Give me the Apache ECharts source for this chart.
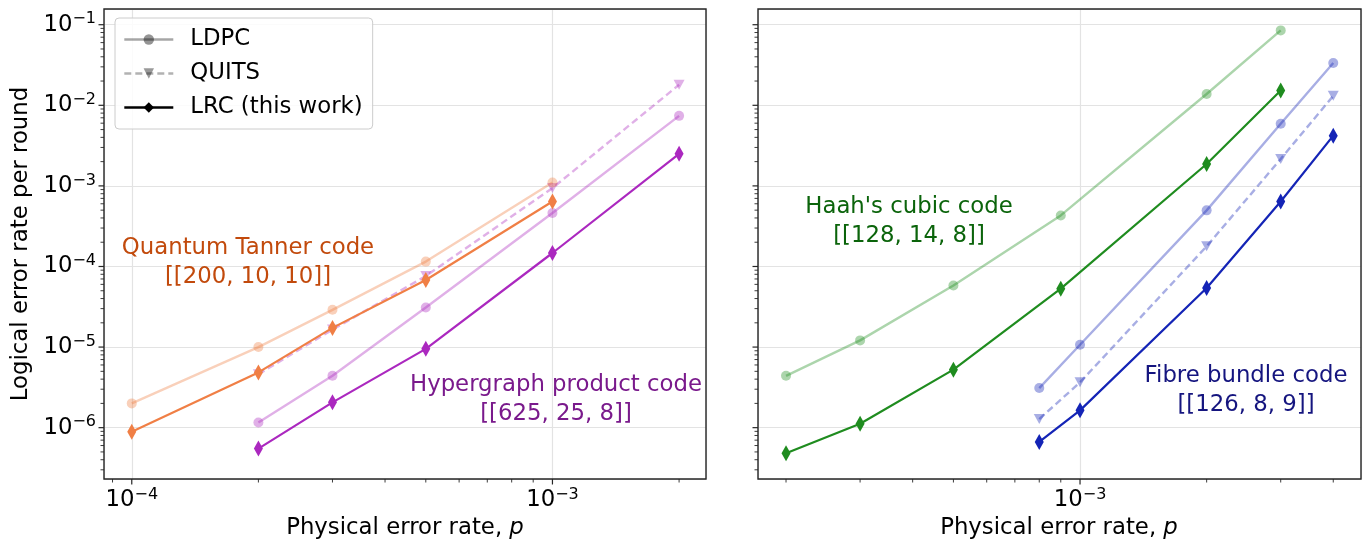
<!DOCTYPE html>
<html>
<head>
<meta charset="utf-8">
<script src="https://cdn.jsdelivr.net/npm/echarts@6/dist/echarts.min.js"></script>
<style>
html,body{margin:0;padding:0;background:#fff;}
#chart{width:1369px;height:544px;}
</style>
</head>
<body>
<div id="chart"></div>
<script>
// ---------- data ----------
const xQT = [1e-4, 2e-4, 3e-4, 5e-4, 1e-3];
const qtLDPC = [2.0e-6, 1.0e-5, 2.9e-5, 1.15e-4, 1.1e-3];
const qtLRC = [8.9e-7, 4.85e-6, 1.73e-5, 6.8e-5, 6.4e-4];

const xHGP = [2e-4, 3e-4, 5e-4, 1e-3, 2e-3];
const hgpLDPC = [1.16e-6, 4.4e-6, 3.1e-5, 4.6e-4, 7.4e-3];
const hgpQUITS = [4.6e-6, 1.65e-5, 7.6e-5, 9.4e-4, 1.8e-2];
const hgpLRC = [5.5e-7, 2.06e-6, 9.5e-6, 1.47e-4, 2.5e-3];

const xHaah = [2e-4, 3e-4, 5e-4, 9e-4, 2e-3, 3e-3];
const haahLDPC = [4.4e-6, 1.21e-5, 5.8e-5, 4.3e-4, 1.38e-2, 8.5e-2];
const haahLRC = [4.8e-7, 1.12e-6, 5.25e-6, 5.3e-5, 1.87e-3, 1.53e-2];

const xFB = [8e-4, 1e-3, 2e-3, 3e-3, 4e-3];
const fbLDPC = [3.1e-6, 1.07e-5, 4.97e-4, 5.9e-3, 3.35e-2];
const fbQUITS = [1.28e-6, 3.65e-6, 1.78e-4, 2.16e-3, 1.31e-2];
const fbLRC = [6.65e-7, 1.64e-6, 5.4e-5, 6.4e-4, 4.2e-3];

const legendNames = ['LDPC', 'QUITS', 'LRC (this work)'];
const xMajorLeft = [1e-4, 1e-3];
const xMajorRight = [1e-3];
const yMajor = [1e-6, 1e-5, 1e-4, 1e-3, 1e-2, 1e-1];
const minorSubs = [2, 3, 4, 5, 6, 7, 8, 9];

const xExtLeft = [Math.pow(10, -4.066), Math.pow(10, -2.635)];
const xExtRight = [Math.pow(10, -3.7656), Math.pow(10, -2.332)];
const yExt = [Math.pow(10, -6.637), Math.pow(10, -0.805)];

// ---------- styling ----------
const FONT = 'DejaVu Sans';
const FS = 22.8;
const C = {
  orange: '#f07f45', purple: '#ab28bf', green: '#1f8c1f', blue: '#1424b6',
  tOrange: '#c24a0c', tPurple: '#7a1a8c', tGreen: '#0b640b', tBlue: '#15157f'
};

function zip(xs, ys) { return xs.map((x, i) => [x, ys[i]]); }

function ldpc(name, xs, ys, color, gi) {
  return {
    name, type: 'line', xAxisIndex: gi, yAxisIndex: gi, data: zip(xs, ys),
    symbol: 'circle', symbolSize: 10, z: 2,
    lineStyle: { color, width: 2.4, opacity: 0.37 },
    itemStyle: { color, opacity: 0.37 }, silent: true, animation: false
  };
}
function quits(name, xs, ys, color, gi) {
  return {
    name, type: 'line', xAxisIndex: gi, yAxisIndex: gi, data: zip(xs, ys),
    symbol: 'triangle', symbolRotate: 180, symbolSize: [11, 10], z: 2,
    lineStyle: { color, width: 2.4, opacity: 0.37, type: [7, 4] },
    itemStyle: { color, opacity: 0.37 }, silent: true, animation: false
  };
}
function lrc(name, xs, ys, color, gi) {
  return {
    name, type: 'line', xAxisIndex: gi, yAxisIndex: gi, data: zip(xs, ys),
    symbol: 'diamond', symbolSize: [9, 16], z: 3,
    lineStyle: { color, width: 2.2 },
    itemStyle: { color }, silent: true, animation: false
  };
}

function inRange(v, ext) { return v >= ext[0] * 0.9999 && v <= ext[1] * 1.0001; }

function tickData(xMajor, xExt) {
  const d = [];
  const yRef = 1e-3, xRef = 1e-3;
  for (let e = -6; e <= -2; e++) {
    const dec = Math.pow(10, e);
    xMajor.forEach(v => { if (Math.abs(v - dec) < dec * 1e-9) d.push([v, yRef, 0, 5.5]); });
    minorSubs.forEach(s => { const v = s * dec; if (inRange(v, xExt)) d.push([v, yRef, 0, 3.5]); });
  }
  yMajor.forEach(v => { if (inRange(v, yExt)) d.push([xRef, v, 1, 5.5]); });
  for (let e = -8; e <= -1; e++) {
    const dec = Math.pow(10, e);
    minorSubs.forEach(s => { const v = s * dec; if (inRange(v, yExt)) d.push([xRef, v, 1, 3.5]); });
  }
  return d;
}

function renderTick(params, api) {
  const cs = params.coordSys;
  const kind = api.value(2), len = api.value(3);
  const lw = len > 4 ? 1.2 : 0.9;
  if (kind === 0) {
    const px = api.coord([api.value(0), api.value(1)])[0];
    const yb = cs.y + cs.height;
    return { type: 'line', shape: { x1: px, y1: yb, x2: px, y2: yb + len }, style: { stroke: '#262626', lineWidth: lw } };
  }
  const py = api.coord([api.value(0), api.value(1)])[1];
  return { type: 'line', shape: { x1: cs.x, y1: py, x2: cs.x - len, y2: py }, style: { stroke: '#262626', lineWidth: lw } };
}

function tickSeries(gi, xMajor, xExt) {
  return {
    type: 'custom', xAxisIndex: gi, yAxisIndex: gi, clip: false, silent: true, animation: false,
    renderItem: renderTick, data: tickData(xMajor, xExt), z: 5
  };
}

function powLabel(v) {
  const l = Math.log10(v), e = Math.round(l);
  if (Math.abs(l - e) > 1e-6) return '';
  return '10{sup|\u2212' + (-e) + '}';
}
const labelRich = {
  sup: { fontFamily: FONT, fontSize: 16, color: '#000', verticalAlign: 'top', lineHeight: 27 }
};

function xAxis(gi, ext) {
  return {
    type: 'log', logBase: 10, gridIndex: gi, min: ext[0], max: ext[1],
    axisLine: { show: false }, axisTick: { show: false }, minorTick: { show: false },
    splitLine: { show: true, lineStyle: { color: '#e3e3e3', width: 1.2 } },
    axisLabel: { show: true, margin: 8, fontFamily: FONT, fontSize: FS, color: '#000', lineHeight: 27,
      formatter: powLabel, rich: labelRich, showMinLabel: true, showMaxLabel: true }
  };
}
function yAxis(gi, showLabels) {
  return {
    type: 'log', logBase: 10, gridIndex: gi, min: yExt[0], max: yExt[1],
    axisLine: { show: false }, axisTick: { show: false }, minorTick: { show: false },
    splitLine: { show: true, lineStyle: { color: '#e3e3e3', width: 1.2 } },
    axisLabel: { show: showLabels, margin: 8, fontFamily: FONT, fontSize: FS, color: '#000', lineHeight: 27,
      formatter: powLabel, rich: labelRich }
  };
}

function annot(x, y, lines, color) {
  return {
    type: 'text', x: x, y: y, silent: true, z: 10,
    style: { text: lines.join('\n'), fill: color, font: FS + 'px "' + FONT + '"', align: 'center', verticalAlign: 'middle', lineHeight: 29 }
  };
}

const chart = echarts.init(document.getElementById('chart'), null, { renderer: 'canvas' });
const option = {
  backgroundColor: '#fff',
  animation: false,
  textStyle: { fontFamily: FONT },
  grid: [
    { left: 104, top: 9, width: 602, height: 470, show: true, borderColor: '#262626', borderWidth: 1.4, backgroundColor: 'transparent', z: 4 },
    { left: 758, top: 9, width: 603, height: 470, show: true, borderColor: '#262626', borderWidth: 1.4, backgroundColor: 'transparent', z: 4 }
  ],
  xAxis: [xAxis(0, xExtLeft), xAxis(1, xExtRight)],
  yAxis: [yAxis(0, true), yAxis(1, false)],
  legend: {
    data: legendNames, orient: 'vertical', left: 115, top: 18,
    padding: [10, 10, 10, 8], itemWidth: 49, itemHeight: 13, itemGap: 11,
    backgroundColor: 'rgba(255,255,255,0.85)', borderColor: '#cccccc', borderWidth: 1, borderRadius: 4,
    lineStyle: { width: 2.6 },
    textStyle: { fontFamily: FONT, fontSize: FS, color: '#000', lineHeight: 23, padding: [0, 0, 0, 12] },
    selectedMode: false, z: 20
  },
  series: [
    // legend proxies
    { name: 'LDPC', type: 'line', xAxisIndex: 0, yAxisIndex: 0, data: [], symbol: 'circle', symbolSize: 9,
      lineStyle: { color: 'rgba(0,0,0,0.35)', width: 2.6 }, itemStyle: { color: 'rgba(0,0,0,0.42)' } },
    { name: 'QUITS', type: 'line', xAxisIndex: 0, yAxisIndex: 0, data: [], symbol: 'triangle', symbolRotate: 180, symbolSize: 9,
      lineStyle: { color: 'rgba(0,0,0,0.3)', width: 2.6, type: [7, 4] }, itemStyle: { color: 'rgba(0,0,0,0.4)' } },
    { name: 'LRC (this work)', type: 'line', xAxisIndex: 0, yAxisIndex: 0, data: [], symbol: 'diamond', symbolSize: [8, 13],
      lineStyle: { color: '#000', width: 2.6 }, itemStyle: { color: '#000' } },
    // left panel
    quits('HGP QUITS', xHGP, hgpQUITS, C.purple, 0),
    ldpc('HGP LDPC', xHGP, hgpLDPC, C.purple, 0),
    ldpc('QT LDPC', xQT, qtLDPC, C.orange, 0),
    lrc('HGP LRC', xHGP, hgpLRC, C.purple, 0),
    lrc('QT LRC', xQT, qtLRC, C.orange, 0),
    // right panel
    ldpc('Haah LDPC', xHaah, haahLDPC, C.green, 1),
    ldpc('FB LDPC', xFB, fbLDPC, C.blue, 1),
    quits('FB QUITS', xFB, fbQUITS, C.blue, 1),
    lrc('Haah LRC', xHaah, haahLRC, C.green, 1),
    lrc('FB LRC', xFB, fbLRC, C.blue, 1),
    tickSeries(0, xMajorLeft, xExtLeft),
    tickSeries(1, xMajorRight, xExtRight)
  ],
  graphic: [
    annot(248, 263, ['Quantum Tanner code', '[[200, 10, 10]]'], C.tOrange),
    annot(556, 400, ['Hypergraph product code', '[[625, 25, 8]]'], C.tPurple),
    annot(909, 222, ["Haah's cubic code", '[[128, 14, 8]]'], C.tGreen),
    annot(1246, 391, ['Fibre bundle code', '[[126, 8, 9]]'], C.tBlue),
    { type: 'text', x: 405, y: 528, silent: true,
      style: { text: 'Physical error rate, {it|p}', fill: '#000', font: FS + 'px "' + FONT + '"', align: 'center', verticalAlign: 'middle',
        rich: { it: { fontFamily: FONT, fontSize: FS, fontStyle: 'italic', fill: '#000' } } } },
    { type: 'text', x: 1059, y: 528, silent: true,
      style: { text: 'Physical error rate, {it|p}', fill: '#000', font: FS + 'px "' + FONT + '"', align: 'center', verticalAlign: 'middle',
        rich: { it: { fontFamily: FONT, fontSize: FS, fontStyle: 'italic', fill: '#000' } } } },
    { type: 'text', x: 21, y: 244, rotation: Math.PI / 2, silent: true,
      style: { text: 'Logical error rate per round', fill: '#000', font: FS + 'px "' + FONT + '"', align: 'center', verticalAlign: 'middle' } }
  ]
};
chart.setOption(option);
</script>
</body>
</html>
